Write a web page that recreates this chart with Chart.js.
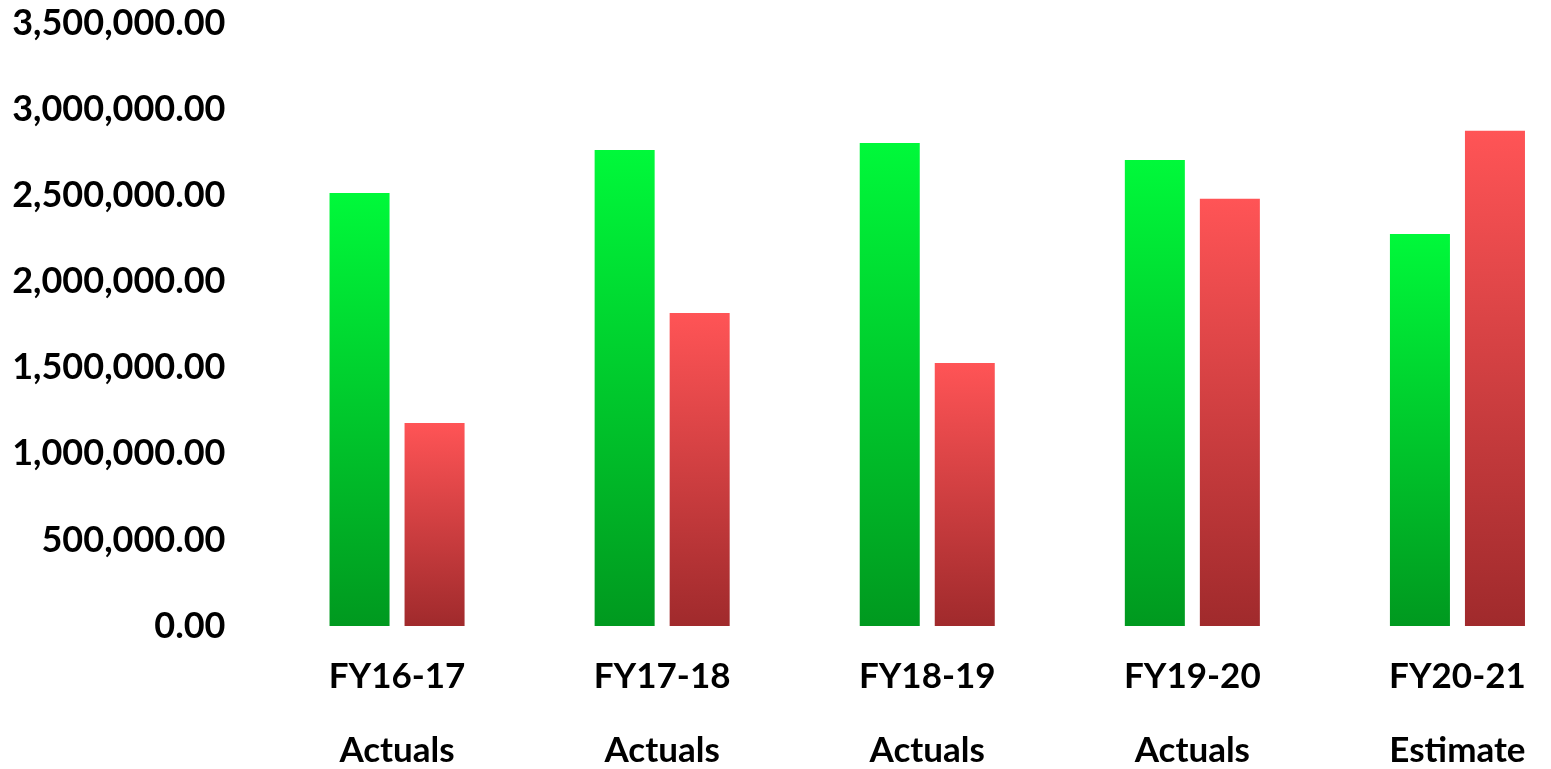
<!DOCTYPE html>
<html>
<head>
<meta charset="utf-8">
<script src="https://cdn.jsdelivr.net/npm/chart.js@4/dist/chart.umd.min.js"></script>
<style>
  html, body { margin: 0; padding: 0; background: #fff; overflow: hidden; }
  canvas { display: block; }
</style>
</head>
<body>
<canvas id="fyChart" width="1590" height="769"></canvas>
<script>
// Fiscal years and their status line
const years = ['FY16-17', 'FY17-18', 'FY18-19', 'FY19-20', 'FY20-21'];
const status = ['Actuals', 'Actuals', 'Actuals', 'Actuals', 'Estimate'];

// Values
const greenValues = [2515000, 2765000, 2806000, 2707000, 2277000];
const redValues = [1179000, 1818000, 1528000, 2481000, 2876000];

// Y axis range
const yMax = 3500000;
const yStep = 500000;

/**
 * Builds a vertical gradient for each bar, from its top down to zero
 */
function barGradient(top, bottom) {
    return (context) => {
        const chart = context.chart;
        const yScale = chart.scales.y;
        if (!chart.chartArea || !yScale || context.raw === undefined) return top;
        const yTop = yScale.getPixelForValue(context.raw);
        const yBase = yScale.getPixelForValue(0);
        const grad = chart.ctx.createLinearGradient(0, yTop, 0, yBase);
        grad.addColorStop(0, top);
        grad.addColorStop(1, bottom);
        return grad;
    };
}

const ctx = document.getElementById('fyChart').getContext('2d');
new Chart(ctx, {
    type: 'bar',
    data: {
        labels: years.map((y, i) => [y, status[i]]),
        datasets: [{
            label: 'Series 1',
            data: greenValues,
            backgroundColor: barGradient('#00f93a', '#00991f'),
            borderWidth: 0,
            barPercentage: 0.8,
            categoryPercentage: 0.566
        }, {
            label: 'Series 2',
            data: redValues,
            backgroundColor: barGradient('#ff5456', '#a02a2c'),
            borderWidth: 0,
            barPercentage: 0.8,
            categoryPercentage: 0.566
        }]
    },
    options: {
        responsive: false,
        animation: false,
        layout: { padding: 0 },
        plugins: {
            legend: { display: false },
            tooltip: { enabled: false }
        },
        scales: {
            x: {
                grid: { display: false, drawTicks: false },
                border: { display: false },
                ticks: {
                    color: '#000',
                    font: { family: 'Lato', size: 35, weight: 'bold', lineHeight: 74 / 35 },
                    padding: 14,
                    maxRotation: 0
                },
                afterFit: (scale) => { scale.height = 143; }
            },
            y: {
                min: 0,
                max: yMax,
                // hidden tick marks give the gap between labels and bars
                // (ticks.padding would also push the plot top down)
                grid: { display: false, drawTicks: true, tickLength: 39 },
                border: { display: false },
                ticks: {
                    stepSize: yStep,
                    color: '#000',
                    font: { family: 'Lato', size: 36, weight: 'bold', lineHeight: 1.3 },
                    padding: 0,
                    callback: (value) => value.toLocaleString('en-US', {
                        minimumFractionDigits: 2,
                        maximumFractionDigits: 2
                    })
                },
                afterFit: (scale) => { scale.width = 264.5; }
            }
        }
    }
});
</script>
</body>
</html>
